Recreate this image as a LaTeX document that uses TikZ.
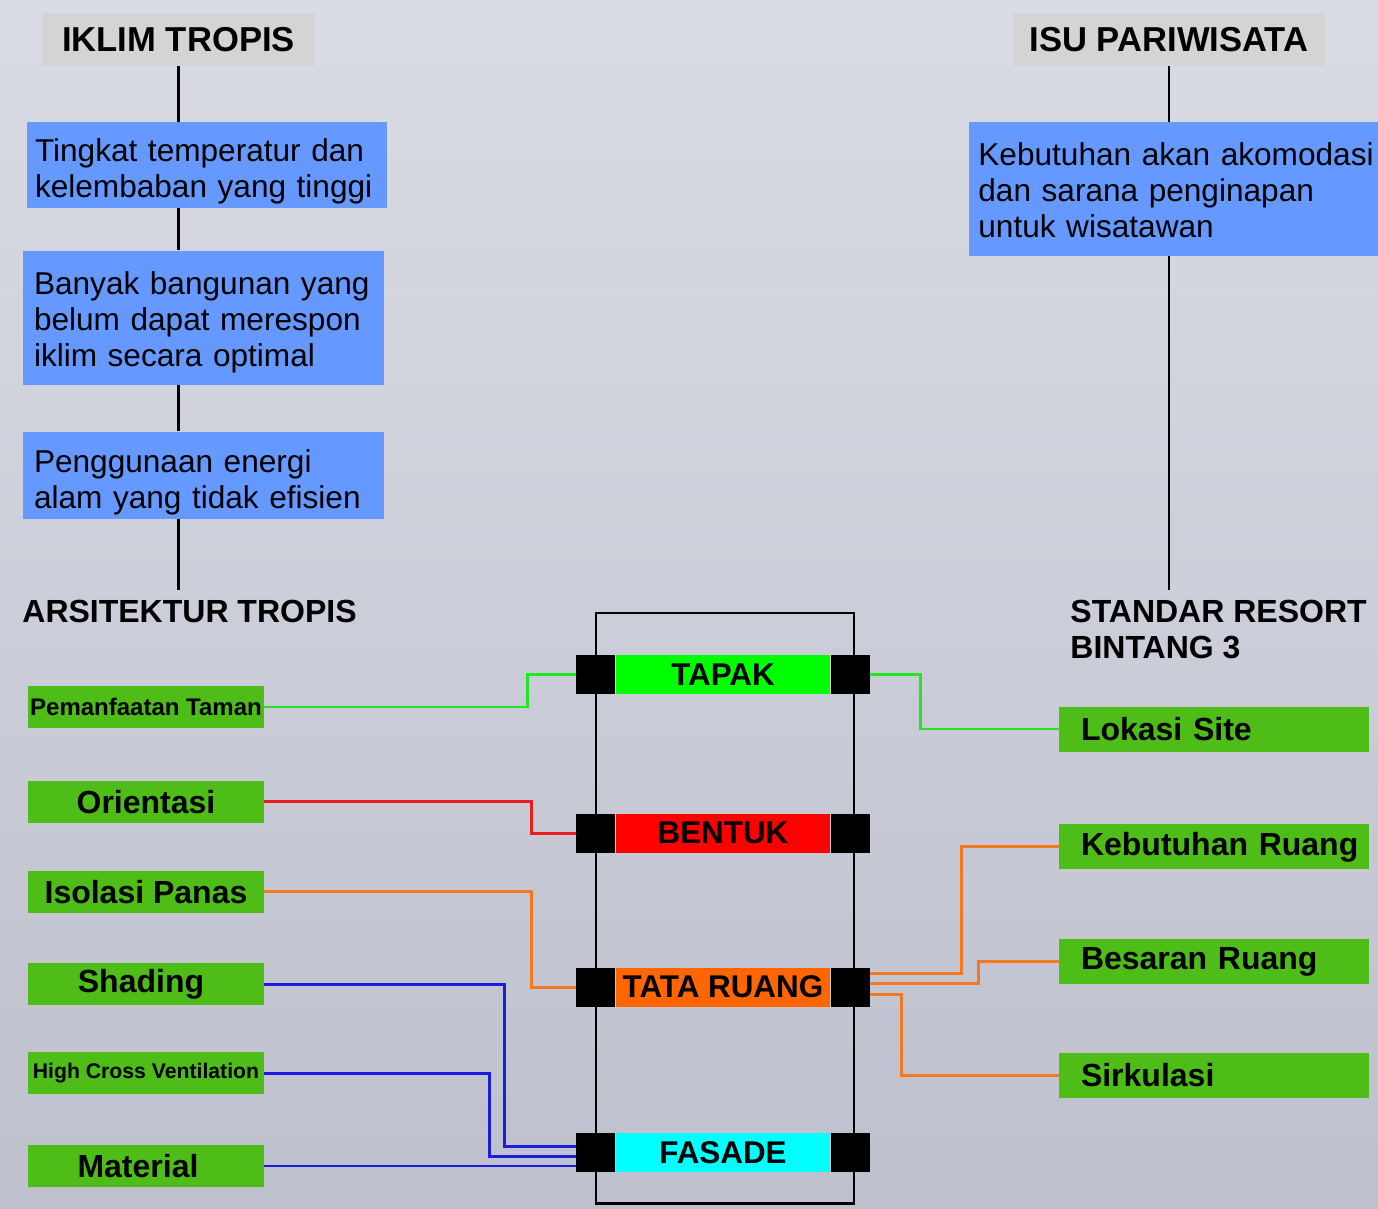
\documentclass[tikz,border=0pt]{standalone}
\usepackage{fontspec}
\setmainfont{Liberation Sans}
\usetikzlibrary{positioning}

\definecolor{latar}{RGB}{217,220,228}
\definecolor{latarbawah}{RGB}{190,193,205}
\definecolor{abu}{RGB}{212,212,212}
\definecolor{biru}{RGB}{102,153,255}
\definecolor{hijaukotak}{RGB}{78,189,24}
\definecolor{hijau}{RGB}{0,255,0}
\definecolor{merah}{RGB}{255,0,0}
\definecolor{oranye}{RGB}{255,102,0}
\definecolor{sian}{RGB}{0,255,255}
\definecolor{garishijau}{RGB}{34,230,34}
\definecolor{garismerah}{RGB}{232,30,30}
\definecolor{garisoranye}{RGB}{245,120,30}
\definecolor{garisbiru}{RGB}{28,28,224}

\begin{document}
\begin{tikzpicture}[
    x=0.5pt, y=-0.5pt,
    judul/.style={rectangle, fill=abu, font=\bfseries\fontsize{17.3}{20}\selectfont, inner sep=0pt, minimum height=26.5pt},
    masalah/.style={rectangle, fill=biru, font=\fontsize{15.8}{18}\selectfont, align=left, inner xsep=5.5pt, inner ysep=0pt, text width=169.5pt},
    subjudul/.style={font=\bfseries\fontsize{16}{18}\selectfont, align=left, inner sep=5pt},
    kriteria/.style={rectangle, fill=hijaukotak, font=\bfseries\fontsize{16}{18}\selectfont, minimum width=118pt, minimum height=21pt, inner sep=0pt},
    standar/.style={rectangle, fill=hijaukotak, font=\bfseries\fontsize{16}{18}\selectfont, text width=155pt, align=left, inner xsep=0pt, inner ysep=0pt, minimum height=22.5pt, execute at begin node={\hspace*{11pt}}},
    aspek/.style={rectangle, font=\bfseries\fontsize{15.7}{18}\selectfont, minimum width=107pt, minimum height=19.5pt, inner sep=0pt},
    blok/.style={rectangle, fill=black, minimum width=19.5pt, minimum height=19.5pt, inner sep=0pt},
    garis/.style={line width=1.4pt},
    hubung/.style={line width=1.4pt}
]

% Latar
\fill[top color=latar, bottom color=latarbawah] (0,0) rectangle (1378,1209);
\useasboundingbox (0,0) rectangle (1378,1209);

% Iklim tropis
\node[judul, minimum width=136.5pt] (iklim) at (178.5,39.5) {IKLIM TROPIS};
\node[masalah, minimum height=43pt, inner xsep=4pt, text width=172pt, text height=17.5pt] (tingkat) at (207,165) {Tingkat temperatur dan\\kelembaban yang tinggi};
\node[masalah, minimum height=67pt, text height=15.5pt, below=21pt of tingkat, xshift=-1.75pt] (banyak) {Banyak bangunan yang\\belum dapat merespon\\iklim secara optimal};
\node[masalah, minimum height=43.5pt, text height=18.5pt, below=23pt of banyak] (energi) {Penggunaan energi\\alam yang tidak efisien};
\node[subjudul, anchor=north west] (arsitektur) at (12,590) {ARSITEKTUR TROPIS};

% Isu pariwisata
\node[judul, minimum width=156pt] (isu) at (1169,39.5) {ISU PARIWISATA};
\node[masalah, minimum height=67pt, text height=13pt, anchor=west, inner xsep=4.5pt, text width=206pt] (akomodasi) at (969,189) {Kebutuhan akan akomodasi\\dan sarana penginapan\\untuk wisatawan};
\node[subjudul, anchor=north west] (standarresort) at (1060,590) {STANDAR RESORT\\BINTANG 3};

% Aspek
\node[aspek, fill=hijau] (tapak) at (723,674.5) {TAPAK};
\node[aspek, fill=merah, below=59.5pt of tapak] (bentuk) {BENTUK};
\node[aspek, fill=oranye, below=57pt of bentuk] (tata) {TATA RUANG};
\node[aspek, fill=sian, below=63pt of tata] (fasade) {FASADE};
\foreach \a in {tapak,bentuk,tata,fasade} {
    \node[blok, left=0pt of \a] (\a kiri) {};
    \node[blok, right=0pt of \a] (\a kanan) {};
}
\draw[line width=1.2pt, black] ([yshift=30.75pt]tapakkiri.center) rectangle ([xshift=1.75pt,yshift=-25.25pt]fasadekanan.center);

% Kriteria arsitektur tropis
\node[kriteria, font=\bfseries\fontsize{12}{14}\selectfont] (pemanfaatan) at (146,707) {Pemanfaatan Taman};
\node[kriteria, below=26pt of pemanfaatan] (orientasi) {Orientasi};
\node[kriteria, below=23.5pt of orientasi] (isolasi) {Isolasi Panas};
\node[kriteria, below=25pt of isolasi] (shading) {Shading\hspace*{5pt}};
\node[kriteria, font=\bfseries\fontsize{10.6}{12}\selectfont, below=23pt of shading] (ventilasi) {High Cross Ventilation};
\node[kriteria, below=25pt of ventilasi] (material) {Material\hspace*{8pt}};

% Standar resort
\node[standar] (lokasi) at (1214,729) {Lokasi Site};
\node[standar, below=36pt of lokasi] (kebutuhan) {Kebutuhan Ruang};
\node[standar, below=34.5pt of kebutuhan] (besaran) {Besaran Ruang};
\node[standar, below=34pt of besaran] (sirkulasi) {Sirkulasi};

% Garis
\draw[garis] (iklim.south) -- (iklim.south |- tingkat.north);
\draw[garis] (iklim.south |- tingkat.south) -- (iklim.south |- banyak.north);
\draw[garis] (iklim.south |- banyak.south) -- (iklim.south |- energi.north);
\draw[garis] (iklim.south |- energi.south) -- (iklim.south |- arsitektur.north);
\draw[garis] (isu.south) -- (isu.south |- akomodasi.north);
\draw[garis] (isu.south |- akomodasi.south) -- (isu.south |- standarresort.north);

% Hubungan
\draw[hubung, garishijau] (pemanfaatan.east) -| ([xshift=-24pt]tapakkiri.west) -- (tapakkiri.west);
\draw[hubung, garishijau] (tapakkanan.east) -- ++(25pt,0pt) |- (lokasi.west);
\draw[hubung, garismerah] (orientasi.east) -| ([xshift=-22pt]bentukkiri.west) -- (bentukkiri.west);
\draw[hubung, garisoranye] (isolasi.east) -| ([xshift=-22pt]tatakiri.west) -- (tatakiri.west);
\draw[hubung, garisoranye] ([yshift=7pt]tatakanan.east) -- ++(45.5pt,0pt) |- (kebutuhan.west);
\draw[hubung, garisoranye] ([yshift=2pt]tatakanan.east) -- ++(54pt,0pt) |- (besaran.west);
\draw[hubung, garisoranye] ([yshift=-3.5pt]tatakanan.east) -- ++(15.5pt,0pt) |- (sirkulasi.west);
\draw[hubung, garisbiru] (shading.east) -| ([xshift=-35.5pt,yshift=3.25pt]fasadekiri.west) -- ([yshift=3.25pt]fasadekiri.west);
\draw[hubung, garisbiru] (ventilasi.east) -| ([xshift=-43pt,yshift=-1.75pt]fasadekiri.west) -- ([yshift=-1.75pt]fasadekiri.west);
\draw[hubung, garisbiru] (material.east) -- (material.east -| fasadekiri.west);

\end{tikzpicture}
\end{document}
